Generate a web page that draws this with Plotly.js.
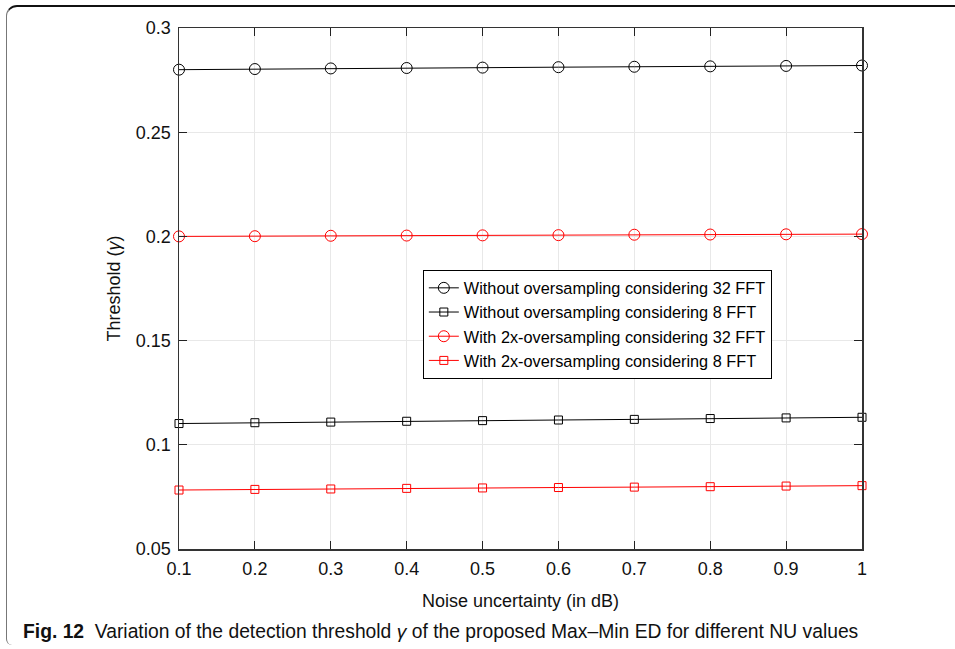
<!DOCTYPE html>
<html>
<head>
<meta charset="utf-8">
<script src="https://cdn.plot.ly/plotly-3.0.1.min.js"></script>
<style>
  html, body { margin: 0; padding: 0; background: #fff; }
  #wrap { position: relative; width: 955px; height: 649px; overflow: hidden; }
  #frame {
    position: absolute; left: 6px; top: 5px; width: 1000px; height: 640px;
    border-top: 2px solid #111; border-left: 1.5px solid #777;
    border-top-left-radius: 11px; border-bottom-left-radius: 6px;
    box-sizing: border-box; pointer-events: none;
  }
  #chart { position: absolute; left: 0; top: 0; width: 955px; height: 649px; }
</style>
</head>
<body>
<div id="wrap">
  <div id="chart"></div>
  <div id="frame"></div>
</div>
<script>
// Noise uncertainty (dB)
const noiseUncertainty = [0.1, 0.2, 0.3, 0.4, 0.5, 0.6, 0.7, 0.8, 0.9, 1.0];

// Detection thresholds for each configuration
const noOs32 = [0.2800, 0.2803, 0.2806, 0.2808, 0.2810, 0.2812, 0.2814, 0.2816, 0.2818, 0.2820];
const noOs8  = [0.1102, 0.1106, 0.1109, 0.1113, 0.1116, 0.1119, 0.1122, 0.1126, 0.1129, 0.1132];
const os32   = [0.2000, 0.2001, 0.2003, 0.2004, 0.2005, 0.2006, 0.2008, 0.2009, 0.2010, 0.2011];
const os8    = [0.0783, 0.0786, 0.0788, 0.0791, 0.0793, 0.0795, 0.0797, 0.0799, 0.0802, 0.0804];

const seriesNames = [
  'Without oversampling considering 32 FFT',
  'Without oversampling considering 8 FFT',
  'With 2x-oversampling considering 32 FFT',
  'With 2x-oversampling considering 8 FFT'
];

const xTicks = [0.1, 0.2, 0.3, 0.4, 0.5, 0.6, 0.7, 0.8, 0.9, 1];
const xTickText = ['0.1', '0.2', '0.3', '0.4', '0.5', '0.6', '0.7', '0.8', '0.9', '1'];
const yTicks = [0.05, 0.1, 0.15, 0.2, 0.25, 0.3];
const yTickText = ['0.05', '0.1', '0.15', '0.2', '0.25', '0.3'];

const FONT = 'Liberation Sans, Arial, sans-serif';

function trace(y, name, color, symbol, size) {
  return {
    x: noiseUncertainty, y: y, name: name, type: 'scatter', mode: 'lines+markers',
    line: { color: color, width: 1 },
    marker: { symbol: symbol, size: size, color: color, line: { color: color, width: 1 } },
    cliponaxis: false
  };
}

const data = [
  trace(noOs32, seriesNames[0], '#000000', 'circle-open', 11),
  trace(noOs8,  seriesNames[1], '#000000', 'square-open', 8),
  trace(os32,   seriesNames[2], '#ff0000', 'circle-open', 11),
  trace(os8,    seriesNames[3], '#ff0000', 'square-open', 8)
];

const axisCommon = {
  showgrid: true, gridcolor: '#e8e8e8', gridwidth: 1,
  zeroline: false, showline: true, linecolor: '#333', linewidth: 1.5,
  mirror: 'ticks', ticks: 'inside', ticklen: 8, tickcolor: '#222', tickwidth: 1,
  ticklabelstandoff: 3,
  tickfont: { family: FONT, size: 18, color: '#111' }
};

const layout = {
  width: 955, height: 649,
  margin: { l: 179, r: 93, t: 28, b: 100 },
  paper_bgcolor: '#fff', plot_bgcolor: '#fff',
  showlegend: true,
  xaxis: Object.assign({}, axisCommon, {
    range: [0.1, 1], tickvals: xTicks, ticktext: xTickText,
    title: { text: 'Noise uncertainty (in dB)', standoff: 16,
             font: { family: FONT, size: 18, color: '#111' } }
  }),
  yaxis: Object.assign({}, axisCommon, {
    range: [0.05, 0.3], tickvals: yTicks, ticktext: yTickText,
    title: { text: 'Threshold (<i>γ</i>)', standoff: 10,
             font: { family: FONT, size: 18, color: '#111' } }
  }),
  legend: {
    x: 0.357, y: 0.536, xanchor: 'left', yanchor: 'top',
    bgcolor: '#fff', bordercolor: '#000', borderwidth: 1,
    font: { family: FONT, size: 16.3, color: '#000' },
    tracegroupgap: 0, itemwidth: 30
  },
  annotations: [{
    xref: 'paper', yref: 'paper', x: -0.232, y: -0.158, xanchor: 'left', yanchor: 'middle',
    showarrow: false, align: 'left',
    text: '<b>Fig. 12</b>  Variation of the detection threshold <i>γ</i> of the proposed Max–Min ED for different NU values',
    font: { family: 'Liberation Sans Narrow, Arial Narrow, sans-serif', size: 19.3, color: '#111' }
  }]
};

Plotly.newPlot('chart', data, layout, { displayModeBar: false, staticPlot: true });
</script>
</body>
</html>
